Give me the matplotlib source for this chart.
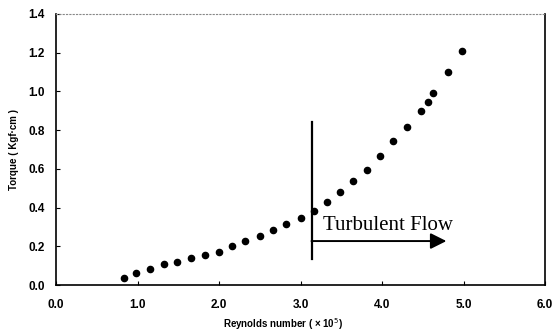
import numpy as np
import matplotlib.pyplot as plt

# Measured data: Reynolds number (x 10^5) vs torque (Kgf cm)
reynolds = [0.83, 0.98, 1.15, 1.32, 1.49, 1.66, 1.83, 2.00, 2.16, 2.32,
            2.50, 2.66, 2.82, 3.00, 3.16, 3.32, 3.49, 3.65, 3.82, 3.98,
            4.14, 4.31, 4.48, 4.56, 4.63, 4.81, 4.98]
torque = [0.038, 0.062, 0.083, 0.107, 0.117, 0.139, 0.157, 0.170, 0.200, 0.229,
          0.255, 0.286, 0.314, 0.346, 0.384, 0.430, 0.480, 0.537, 0.592, 0.668,
          0.745, 0.815, 0.897, 0.945, 0.990, 1.100, 1.209]

x_ticks = [0.0, 1.0, 2.0, 3.0, 4.0, 5.0, 6.0]
y_ticks = [0.0, 0.2, 0.4, 0.6, 0.8, 1.0, 1.2, 1.4]

# transition marker
Re_crit = 3.135
line_y = (0.134, 0.842)
arrow_y = 0.227
arrow_end = 4.79

fig = plt.figure(figsize=(5.55, 3.34), dpi=100)
ax = fig.add_axes([56/555, 49/334, 489/555, 271/334])

ax.scatter(reynolds, torque, s=20, color='black', zorder=3)

ax.plot([Re_crit, Re_crit], line_y, color='black', lw=1.6)
ax.annotate('', xy=(arrow_end, arrow_y), xytext=(Re_crit, arrow_y),
            arrowprops=dict(arrowstyle='-|>', color='black', lw=1.4,
                            mutation_scale=24, shrinkA=0, shrinkB=0))
ax.text(Re_crit + 0.14, arrow_y + 0.058, 'Turbulent Flow', fontsize=15,
        family='Liberation Serif', va='baseline', ha='left')

ax.set_xlim(0, 6)
ax.set_ylim(0, 1.4)
ax.set_xticks(x_ticks)
ax.set_yticks(y_ticks)
ax.set_xticklabels([f'{v:.1f}' for v in x_ticks], fontsize=8.5, fontweight='bold',
                   family='Liberation Sans')
ax.set_yticklabels([f'{v:.1f}' for v in y_ticks], fontsize=8.5, fontweight='bold',
                   family='Liberation Sans')
ax.tick_params(axis='x', direction='in', length=3, width=0.8, pad=10)
ax.tick_params(axis='y', direction='in', length=3, width=0.8, pad=8)

ax.set_xlabel('Reynolds number ( \u00d7 10$^5$)', fontsize=7, fontweight='bold',
              family='Liberation Sans')
ax.xaxis.set_label_coords(0.465, -0.115)
ax.set_ylabel('Torque ( Kgf\u00b7cm )', fontsize=7, fontweight='bold',
              family='Liberation Sans', labelpad=7)

for side in ['left', 'bottom', 'right']:
    ax.spines[side].set_linewidth(1.2)
ax.spines['top'].set_linestyle((0, (1, 2)))
ax.spines['top'].set_color('#888888')
ax.spines['top'].set_linewidth(0.8)

fig.savefig('out.png', dpi=100)
